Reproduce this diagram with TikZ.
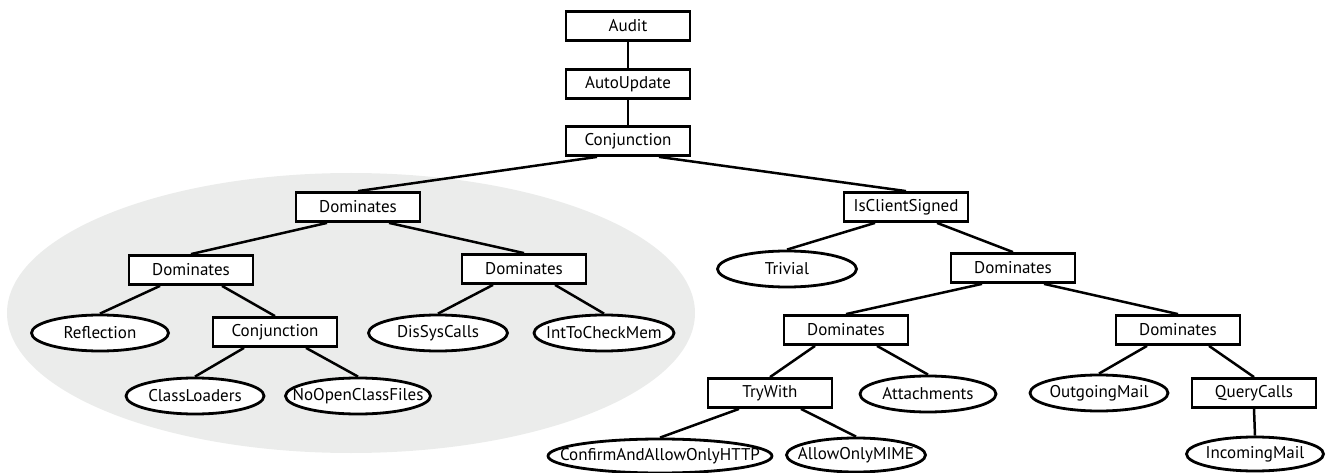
\documentclass[tikz,border=0pt]{standalone}
\usepackage{fontspec}
\setmainfont{PT Sans}
\usetikzlibrary{shapes.geometric,calc}
\definecolor{regiongray}{HTML}{EBECEB}
\tikzset{
  boxnode/.style={draw, rectangle, line width=2.8pt, fill=white, minimum width=124pt, minimum height=29pt, inner sep=0pt, font=\fontsize{17}{19}\selectfont},
  ellnode/.style={draw, ellipse, line width=2.8pt, fill=white, minimum height=36pt, inner sep=0pt, font=\fontsize{17}{19}\selectfont},
  conn/.style={line width=2.5pt},
}
\newcommand{\lk}[2]{\draw[conn] ($(#1.south)+(-31,0)$) -- (#2.north);}
\newcommand{\rk}[2]{\draw[conn] ($(#1.south)+(31,0)$) -- (#2.north);}
\newcommand{\et}[1]{\makebox[0pt]{#1}}
\begin{document}
\begin{tikzpicture}[x=1pt,y=-1pt]
\useasboundingbox (0,0) rectangle (1326,473);
\fill[regiongray] (351,313) ellipse [x radius=344, y radius=140];
% rectangles
\node[boxnode] (audit) at (628,26) {Audit};
\node[boxnode] (autoupdate) at (628,84) {AutoUpdate};
\node[boxnode] (conj) at (628,141) {Conjunction};
\node[boxnode] (domA) at (358,207) {Dominates};
\node[boxnode] (isclient) at (906,207) {IsClientSigned};
\node[boxnode] (domB) at (191,270) {Dominates};
\node[boxnode] (domC) at (524,269) {Dominates};
\node[boxnode] (conj2) at (275,332) {Conjunction};
\node[boxnode] (domD) at (1013,268) {Dominates};
\node[boxnode] (domE) at (846,330) {Dominates};
\node[boxnode] (domF) at (1178,330) {Dominates};
\node[boxnode] (trywith) at (770,393) {TryWith};
\node[boxnode] (querycalls) at (1254,393) {QueryCalls};
% ellipses
\node[ellnode, minimum width=137pt] (reflection) at (100,333) {\et{Reflection}};
\node[ellnode, minimum width=139pt] (dissys) at (438,333) {\et{DisSysCalls}};
\node[ellnode, minimum width=140pt] (inttocheck) at (604,333) {\et{IntToCheckMem}};
\node[ellnode, minimum width=138pt] (classloaders) at (195,396) {\et{ClassLoaders}};
\node[ellnode, minimum width=145pt] (noopen) at (358,396) {\et{NoOpenClassFiles}};
\node[ellnode, minimum width=139pt] (trivial) at (787,269) {\et{Trivial}};
\node[ellnode, minimum width=136pt] (attachments) at (928,394) {\et{Attachments}};
\node[ellnode, minimum width=138pt] (outgoing) at (1099,393) {\et{OutgoingMail}};
\node[ellnode, minimum width=224pt, minimum height=34pt] (confirm) at (660,456) {\et{ConfirmAndAllowOnlyHTTP}};
\node[ellnode, minimum width=139pt, minimum height=34pt] (allowmime) at (856,455) {\et{AllowOnlyMIME}};
\node[ellnode, minimum width=137pt, minimum height=34pt] (incoming) at (1255,454) {\et{IncomingMail}};
% connectors
\draw[conn] (audit.south) -- (autoupdate.north);
\draw[conn] (autoupdate.south) -- (conj.north);
\lk{conj}{domA} \rk{conj}{isclient}
\lk{domA}{domB} \rk{domA}{domC}
\lk{domB}{reflection} \rk{domB}{conj2}
\lk{conj2}{classloaders} \rk{conj2}{noopen}
\lk{domC}{dissys} \rk{domC}{inttocheck}
\lk{isclient}{trivial} \rk{isclient}{domD}
\lk{domD}{domE} \rk{domD}{domF}
\lk{domE}{trywith} \rk{domE}{attachments}
\lk{trywith}{confirm} \rk{trywith}{allowmime}
\lk{domF}{outgoing} \rk{domF}{querycalls}
\draw[conn] (querycalls.south) -- (incoming.north);
\end{tikzpicture}
\end{document}
